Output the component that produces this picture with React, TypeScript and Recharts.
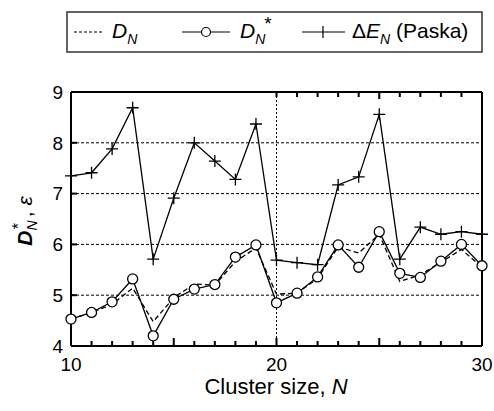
import React from 'react';
import { Line, LineChart, ReferenceLine, XAxis, YAxis } from 'recharts';

const clusterSizes = [10, 11, 12, 13, 14, 15, 16, 17, 18, 19, 20, 21, 22, 23, 24, 25, 26, 27, 28, 29, 30];
const dN = [4.53, 4.66, 4.82, 5.14, 4.48, 4.95, 5.22, 5.2, 5.66, 5.93, 5.02, 5.04, 5.33, 5.95, 5.83, 6.2, 5.27, 5.4, 5.65, 5.9, 5.55];
const dStar = [4.53, 4.66, 4.87, 5.32, 4.2, 4.92, 5.12, 5.21, 5.75, 5.99, 4.85, 5.04, 5.36, 5.99, 5.55, 6.25, 5.43, 5.35, 5.67, 6.0, 5.58];
const deltaE = [7.35, 7.41, 7.88, 8.69, 5.71, 6.91, 8.0, 7.64, 7.28, 8.37, 5.69, 5.64, 5.6, 7.17, 7.33, 8.56, 5.71, 6.34, 6.2, 6.25, 6.2];

const xLabelTicks = [10, 20, 30];
const xMediumTicks = [15, 20, 25];
const yTicks = [4, 5, 6, 7, 8, 9];
const gridY = [5, 6, 7, 8];
const gridX = [20];

const data = clusterSizes.map((n, i) => ({ n, dN: dN[i], dStar: dStar[i], deltaE: deltaE[i] }));

const FONT = '"Liberation Sans", Arial, Helvetica, sans-serif';
const W = 494;
const H = 411;
const axisLine = { stroke: '#000', strokeWidth: 2 };
const TICK_W = 2;

const PlusDot = (props: any) => {
	const { cx, cy } = props;
	if (cx == null || cy == null) return null;
	return <path d={`M${cx - 6},${cy}h12M${cx},${cy - 6}v12`} stroke="#000" strokeWidth={1.3} fill="none" />;
};

// ticks drawn inward from the frame, with labels where needed
const BottomTick = (props: any) => {
	const { x, y, payload } = props;
	const v = payload.value;
	const len = xMediumTicks.includes(v) ? 8 : 5;
	return (
		<g>
			<line x1={x} y1={y} x2={x} y2={y - len} stroke="#000" strokeWidth={TICK_W} />
			{xLabelTicks.includes(v) && (
				<text x={x} y={y + 25} textAnchor="middle" fontSize={19} fontFamily={FONT} fill="#000">
					{v}
				</text>
			)}
		</g>
	);
};

const TopTick = (props: any) => {
	const { x, y, payload } = props;
	const v = payload.value;
	const len = xMediumTicks.includes(v) ? 7 : 5;
	return <line x1={x} y1={y} x2={x} y2={y + len} stroke="#000" strokeWidth={TICK_W} />;
};

const LeftTick = (props: any) => {
	const { x, y, payload } = props;
	const v = payload.value;
	return (
		<g>
			<line x1={x} y1={y} x2={x + 6} y2={y} stroke="#000" strokeWidth={TICK_W} />
			<text x={x - 8} y={y} dy="0.36em" textAnchor="end" fontSize={19} fontFamily={FONT} fill="#000">
				{v}
			</text>
		</g>
	);
};

const RightTick = (props: any) => {
	const { x, y } = props;
	return <line x1={x} y1={y} x2={x - 8} y2={y} stroke="#000" strokeWidth={TICK_W} />;
};

function Overlay() {
	return (
		<svg width={W} height={H} style={{ position: 'absolute', left: 0, top: 0, pointerEvents: 'none' }}>
			<g fontFamily={FONT} fill="#000">
				{/* legend */}
				<rect x={67} y={12} width={415} height={40} fill="#fff" stroke="#333" strokeWidth={1.5} />
				<line x1={74} y1={32} x2={102} y2={32} stroke="#000" strokeDasharray="3 2" strokeWidth={1.2} />
				<text x={112} y={38} fontSize={21}>
					<tspan fontStyle="italic">D</tspan>
					<tspan fontStyle="italic" fontSize={14} dy={6}>N</tspan>
				</text>
				<line x1={182} y1={32} x2={230} y2={32} stroke="#000" strokeWidth={1.2} />
				<circle cx={206} cy={32} r={4.5} fill="#fff" stroke="#000" strokeWidth={1.2} />
				<text x={240} y={38} fontSize={21}>
					<tspan fontStyle="italic">D</tspan>
					<tspan fontStyle="italic" fontSize={14} dy={6}>N</tspan>
					<tspan fontSize={19} dy={-14} dx={-1}>*</tspan>
				</text>
				<line x1={302} y1={32} x2={345} y2={32} stroke="#000" strokeWidth={1.2} />
				<path d="M323,26v12" stroke="#000" strokeWidth={1.2} />
				<text x={352} y={38} fontSize={21}>
					<tspan>Δ</tspan>
					<tspan fontStyle="italic">E</tspan>
					<tspan fontStyle="italic" fontSize={14} dy={6}>N</tspan>
					<tspan dy={-6}> (Paska)</tspan>
				</text>

				{/* x axis title */}
				<text x={276} y={394} fontSize={22} textAnchor="middle">
					<tspan>Cluster size, </tspan>
					<tspan fontStyle="italic">N</tspan>
				</text>

				{/* y axis title */}
				<text transform="translate(32,221) rotate(-90)" fontSize={21} textAnchor="middle">
					<tspan fontStyle="italic" fontWeight="bold">D</tspan>
					<tspan fontStyle="italic" fontSize={14} dy={5}>N</tspan>
					<tspan fontSize={16} dy={-13} dx={-9}>*</tspan>
					<tspan dy={8}> , </tspan>
					<tspan fontStyle="italic">ε</tspan>
				</text>
			</g>
		</svg>
	);
}

export default function App() {
	return (
		<div style={{ position: 'absolute', left: 0, top: 0, width: W, height: H, background: '#fff' }}>
			<LineChart width={W} height={H} data={data} margin={{ top: 0, right: 0, bottom: 0, left: 0 }}>
				<XAxis
					xAxisId="x"
					dataKey="n"
					type="number"
					domain={[10, 30]}
					ticks={clusterSizes}
					interval={0}
					height={65}
					tickLine={false}
					tickSize={0}
					tickMargin={0}
					axisLine={axisLine}
					tick={<BottomTick />}
				/>
				<XAxis
					xAxisId="xt"
					type="number"
					domain={[10, 30]}
					ticks={clusterSizes}
					interval={0}
					orientation="top"
					height={92}
					tickLine={false}
					tickSize={0}
					tickMargin={0}
					axisLine={axisLine}
					tick={<TopTick />}
				/>
				<YAxis
					yAxisId="y"
					type="number"
					domain={[4, 9]}
					ticks={yTicks}
					interval={0}
					width={71}
					tickLine={false}
					tickSize={0}
					tickMargin={0}
					axisLine={axisLine}
					tick={<LeftTick />}
				/>
				<YAxis
					yAxisId="yr"
					type="number"
					domain={[4, 9]}
					ticks={gridY}
					interval={0}
					orientation="right"
					width={12}
					tickLine={false}
					tickSize={0}
					tickMargin={0}
					axisLine={axisLine}
					tick={<RightTick />}
				/>

				{gridY.map((v) => (
					<ReferenceLine key={`gy-${v}`} xAxisId="x" yAxisId="y" y={v} stroke="#000" strokeWidth={1} strokeDasharray="3 2" />
				))}
				{gridX.map((v) => (
					<ReferenceLine key={`gx-${v}`} xAxisId="x" yAxisId="y" x={v} stroke="#000" strokeWidth={1} strokeDasharray="2 2" />
				))}

				<Line
					xAxisId="x"
					yAxisId="y"
					type="linear"
					dataKey="deltaE"
					stroke="#000"
					strokeWidth={1.3}
					dot={<PlusDot />}
					isAnimationActive={false}
				/>
				<Line
					xAxisId="x"
					yAxisId="y"
					type="linear"
					dataKey="dN"
					stroke="#000"
					strokeWidth={1.3}
					strokeDasharray="5 3"
					dot={false}
					isAnimationActive={false}
				/>
				<Line
					xAxisId="x"
					yAxisId="y"
					type="linear"
					dataKey="dStar"
					stroke="#000"
					strokeWidth={1.3}
					dot={{ r: 5, fill: '#fff', stroke: '#000', strokeWidth: 1.3 }}
					isAnimationActive={false}
				/>
			</LineChart>
			<Overlay />
		</div>
	);
}
